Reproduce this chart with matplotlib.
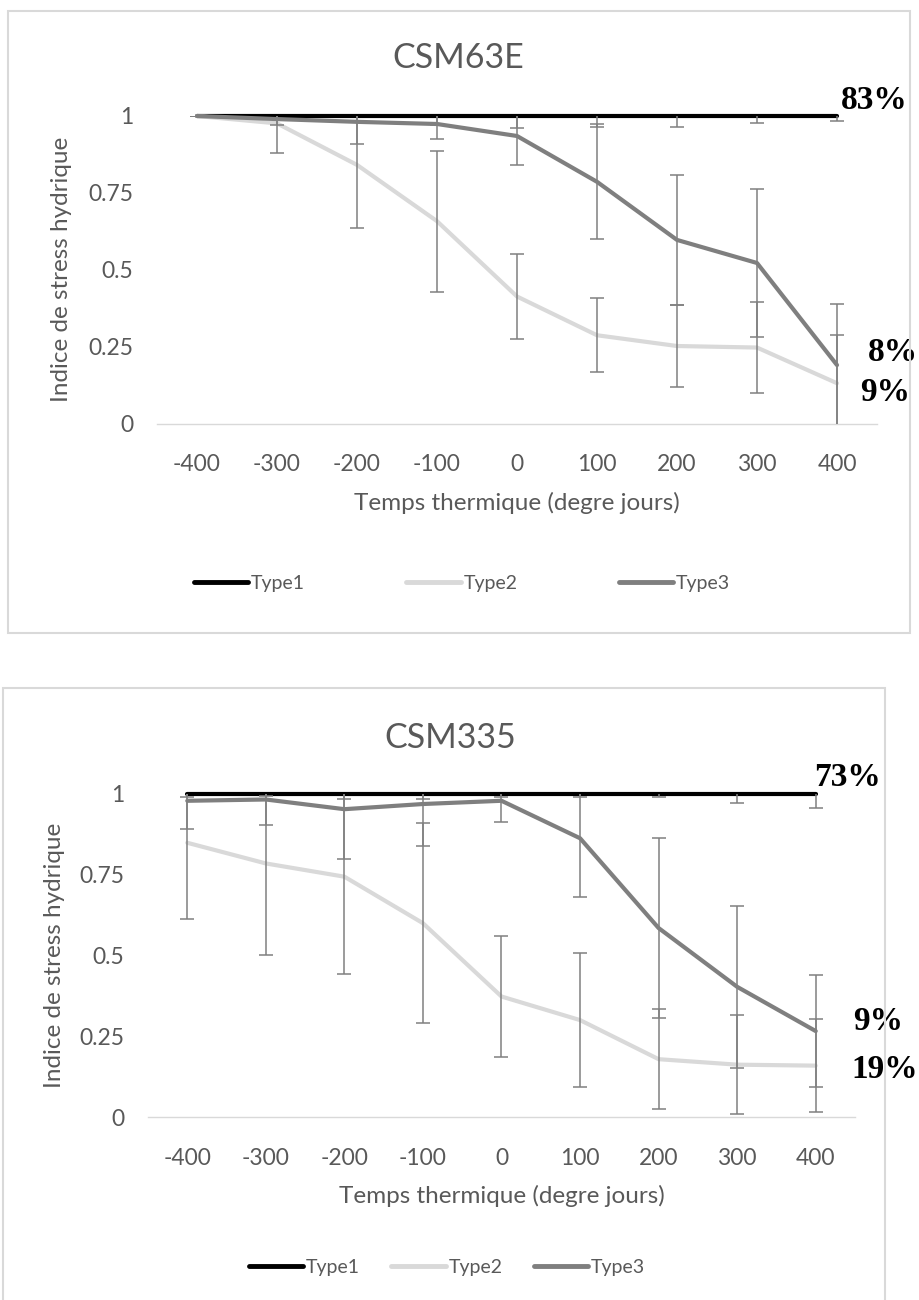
import numpy as np
import matplotlib.pyplot as plt
from matplotlib.patches import Rectangle
from matplotlib.lines import Line2D

plt.rcParams['font.family'] = ['Lato', 'DejaVu Sans']

# temps thermique (degre jours)
temps = [-400, -300, -200, -100, 0, 100, 200, 300, 400]
temps_lab = ['-400', '-300', '-200', '-100', '0', '100', '200', '300', '400']
types = ['Type1', 'Type2', 'Type3']

# CSM63E : moyennes et ecarts-types par type
csm63e_t1 = [1, 1, 1, 1, 1, 1, 1, 1, 1]
csm63e_t2 = [1.0, 0.976, 0.841, 0.658, 0.413, 0.287, 0.252, 0.247, 0.131]
csm63e_t3 = [1.0, 0.99, 0.981, 0.974, 0.935, 0.786, 0.597, 0.522, 0.19]
csm63e_e1 = [0, 0.01, 0.02, 0.03, 0.04, 0.035, 0.035, 0.022, 0.015]
csm63e_e2 = [0, 0.097, 0.204, 0.229, 0.139, 0.12, 0.133, 0.147, 0.157]
csm63e_e3 = [0, 0.02, 0.073, 0.05, 0.094, 0.187, 0.212, 0.24, 0.198]
csm63e_pct = ['83%', '9%', '8%']

# CSM335
csm335_t1 = [1, 1, 1, 1, 1, 1, 1, 1, 1]
csm335_t2 = [0.849, 0.785, 0.744, 0.6, 0.373, 0.30, 0.179, 0.162, 0.159]
csm335_t3 = [0.979, 0.983, 0.953, 0.969, 0.979, 0.863, 0.585, 0.403, 0.266]
csm335_e1 = [0.01, 0.005, 0.016, 0.016, 0.01, 0.01, 0.01, 0.029, 0.044]
csm335_e2 = [0.235, 0.283, 0.302, 0.31, 0.187, 0.207, 0.154, 0.154, 0.144]
csm335_e3 = [0.088, 0.079, 0.154, 0.129, 0.065, 0.181, 0.28, 0.25, 0.174]
csm335_pct = ['73%', '19%', '9%']

couleurs = ['#000000', '#d9d9d9', '#7f7f7f']
gris_texte = '#595959'

W, H = 920, 1300
fig = plt.figure(figsize=(W / 100, H / 100), dpi=100)


def px(x0, y0, x1, y1):
    # rectangle en pixels (haut-gauche) -> coordonnees figure
    return [x0 / W, 1 - y1 / H, (x1 - x0) / W, (y1 - y0) / H]


def graphe(rect, titre, series, erreurs, pct, decal_pct, titre_xy, ylab_x):
    ax = fig.add_axes(px(*rect))
    for s, c in zip(series, couleurs):
        ax.plot(temps, s, color=c, lw=3.0, solid_capstyle='round', clip_on=False, zorder=2)
    for s, e in zip(series, erreurs):
        ax.errorbar(temps, s, yerr=e, fmt='none', ecolor='#808080', elinewidth=1.1,
                    capsize=5, capthick=1.1, zorder=3)
    ax.set_xlim(-450, 450)
    ax.set_ylim(0, 1)
    ax.set_xticks(temps)
    ax.set_xticklabels(temps_lab)
    ax.set_yticks([0, 0.25, 0.5, 0.75, 1])
    ax.set_yticklabels(['0', '0.25', '0.5', '0.75', '1'])
    ax.tick_params(length=0, labelsize=16.5, labelcolor=gris_texte)
    ax.tick_params(axis='x', pad=22)
    ax.tick_params(axis='y', pad=17)
    for sp in ['top', 'right', 'left']:
        ax.spines[sp].set_visible(False)
    ax.spines['bottom'].set_color('#d9d9d9')
    ax.spines['bottom'].set_linewidth(1.0)
    ax.set_xlabel('Temps thermique (degre jours)', fontsize=17.5, color=gris_texte, labelpad=12)
    ax.set_ylabel('Indice de stress hydrique', fontsize=17.5, color=gris_texte)
    ax.yaxis.set_label_coords((ylab_x - rect[0]) / (rect[2] - rect[0]), 0.5)
    fig.text(titre_xy[0] / W, 1 - titre_xy[1] / H, titre, fontsize=24.5, color=gris_texte,
             ha='center', va='center')
    # pourcentages en fin de courbe
    for s, lab, (dx, dy) in zip(series, pct, decal_pct):
        ax.annotate(lab, xy=(temps[-1], s[-1]), xytext=(dx, dy), textcoords='offset points',
                    ha='center', va='center', fontsize=24, fontweight='bold',
                    family='Liberation Serif', annotation_clip=False)
    return ax


# cadres
fig.add_artist(Rectangle((8 / W, 1 - 633 / H), 902 / W, 622 / H, transform=fig.transFigure,
                         fill=False, ec='#d9d9d9', lw=1.5))
fig.add_artist(Rectangle((3 / W, 1 - 1310 / H), 882 / W, 622 / H, transform=fig.transFigure,
                         fill=False, ec='#d9d9d9', lw=1.5))

graphe((157, 116, 877, 423.5), 'CSM63E',
       [csm63e_t1, csm63e_t2, csm63e_t3], [csm63e_e1, csm63e_e2, csm63e_e3],
       csm63e_pct, [(27, 11), (35, -7), (40, 9)], (458, 58), 72)

graphe((148, 794, 855, 1117), 'CSM335',
       [csm335_t1, csm335_t2, csm335_t3], [csm335_e1, csm335_e2, csm335_e3],
       csm335_pct, [(23, 12), (50, -2.5), (45, 7)], (450, 738), 65)

poignees = [Line2D([], [], color=c, lw=3.5, solid_capstyle='round') for c in couleurs]
fig.legend(poignees, types, loc='center', bbox_to_anchor=(462 / W, 1 - 583 / H), ncol=3,
           frameon=False, fontsize=14, labelcolor=gris_texte, handlelength=2.8,
           handletextpad=0.15, columnspacing=5.2)
fig.legend(poignees, types, loc='center', bbox_to_anchor=(447 / W, 1 - 1267 / H), ncol=3,
           frameon=False, fontsize=14, labelcolor=gris_texte, handlelength=2.8,
           handletextpad=0.15, columnspacing=1.6)

fig.savefig('out.png', dpi=100)
